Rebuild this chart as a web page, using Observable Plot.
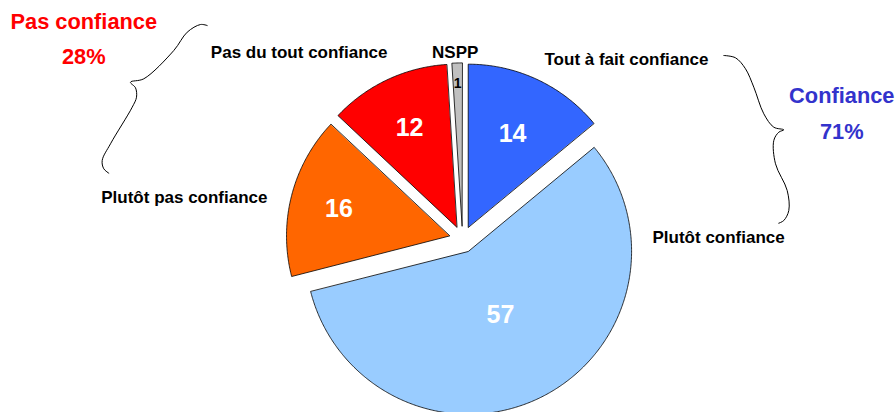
<!DOCTYPE html>
<html>
<head>
<meta charset="utf-8">
<script src="https://cdn.jsdelivr.net/npm/d3@7"></script>
<script src="https://cdn.jsdelivr.net/npm/@observablehq/plot@0.6"></script>
<style>
  html, body { margin: 0; padding: 0; background: #fff; }
  #chart { width: 896px; height: 412px; }
</style>
</head>
<body>
<div id="chart"></div>
<script>
// ---- Data ----
const categories = ["Tout à fait confiance", "Plutôt confiance", "Plutôt pas confiance", "Pas du tout confiance", "NSPP"];
const values = [14, 57, 16, 12, 1];
const sliceColors = ["#3366FF", "#99CCFF", "#FF6600", "#FF0000", "#C0C0C0"];
const valueLabelColors = ["#FFFFFF", "#FFFFFF", "#FFFFFF", "#FFFFFF", "#000000"];
const groupNames = ["Pas confiance", "Confiance"];
const groupShares = ["28%", "71%"];
const groupColors = ["#FF0000", "#3333CC"];

// ---- Layout (pie-centred units, y down) ----
const W = 896, H = 412;
const CX = 462, CY = 238.8;        // pie centre in the frame
const R = 163;                      // radius
const EXPLODE = 13.4;               // explosion offset
const labelRadius = [0.64, 0.43, 0.70, 0.68, 0.88];
const valueFont = [25, 25, 25, 25, 14];

// category label placement (annotation layout)
const catLabelPos = [
  {x: 544 - CX, y: 59.5 - CY, anchor: "start"},
  {x: 652 - CX, y: 237.5 - CY, anchor: "start"},
  {x: 267 - CX, y: 197.5 - CY, anchor: "end"},
  {x: 387 - CX, y: 52.5 - CY, anchor: "end"},
  {x: 454.7 - CX, y: 52.5 - CY, anchor: "middle"}
];
const groupLabelPos = [
  {x: 83.3 - CX, y1: 21.1 - CY, y2: 56.4 - CY},
  {x: 841.3 - CX, y1: 95.8 - CY, y2: 131.4 - CY}
];
const braceLeft = [[206.7,25],[200,24],[186.7,31.7],[173.3,50],[143.3,78.3],[130,81.7],[135,87.3],[136,96.7],[131.7,106.7],[110,143.3],[101.7,160],[103.3,168.3],[108.3,172.7]];
const braceRight = [[723.3,55],[735,57.3],[745,68.3],[753.3,86.7],[763.3,113.3],[773.3,126.7],[783.3,129.3],[778.3,131.7],[773.3,140],[775,163.3],[786.7,190],[788.3,210],[783.3,220],[778.3,222.7]];

// ---- Geometry from the values ----
const arcs = d3.pie().sort(null).value(d => d)(values);
const slices = arcs.map((a, i) => {
  const mid = (a.startAngle + a.endAngle) / 2;
  const ox = EXPLODE * Math.sin(mid), oy = -EXPLODE * Math.cos(mid);
  const pts = [{x: ox, y: oy}];
  const n = Math.max(4, Math.ceil((a.endAngle - a.startAngle) / (Math.PI / 360)));
  for (let k = 0; k <= n; k++) {
    const t = a.startAngle + (a.endAngle - a.startAngle) * k / n;
    pts.push({x: ox + R * Math.sin(t), y: oy - R * Math.cos(t)});
  }
  const lr = labelRadius[i] * R;
  return {
    cat: categories[i], value: values[i], color: sliceColors[i], pts,
    lx: ox + lr * Math.sin(mid), ly: oy - lr * Math.cos(mid) + 1,
    labelColor: valueLabelColors[i], fs: valueFont[i]
  };
});

const font = "'Liberation Sans', Arial, Helvetica, sans-serif";
const toXY = arr => arr.map(([x, y]) => ({x: x - CX, y: y - CY}));

const marks = [];
slices.forEach(s => {
  marks.push(Plot.line(s.pts, {x: "x", y: "y", curve: "linear-closed", fill: s.color, stroke: "#000", strokeWidth: 0.8}));
});
slices.forEach(s => {
  marks.push(Plot.text([s], {x: "lx", y: "ly", text: d => String(d.value), fill: s.labelColor, fontSize: s.fs, fontWeight: "bold", fontFamily: font}));
});
categories.forEach((c, i) => {
  const p = catLabelPos[i];
  marks.push(Plot.text([c], {x: () => p.x, y: () => p.y, text: d => d, textAnchor: p.anchor, fill: "#000", fontSize: 17, fontWeight: "bold", fontFamily: font}));
});
groupNames.forEach((g, i) => {
  const p = groupLabelPos[i];
  marks.push(Plot.text([g], {x: () => p.x, y: () => p.y1, text: d => d, fill: groupColors[i], fontSize: 21.8, fontWeight: "bold", fontFamily: font}));
  marks.push(Plot.text([groupShares[i]], {x: () => p.x, y: () => p.y2, text: d => d, fill: groupColors[i], fontSize: 21.8, fontWeight: "bold", fontFamily: font}));
});
marks.push(Plot.line(toXY(braceLeft), {x: "x", y: "y", curve: "catmull-rom", stroke: "#000", strokeWidth: 1}));
marks.push(Plot.line(toXY(braceRight), {x: "x", y: "y", curve: "catmull-rom", stroke: "#000", strokeWidth: 1}));

const chart = Plot.plot({
  width: W, height: H,
  margin: 0,
  x: {domain: [-CX, W - CX], range: [0, W], axis: null},
  y: {domain: [-CY, H - CY], range: [0, H], axis: null},
  style: {background: "#fff", overflow: "hidden"},
  marks
});
document.getElementById("chart").appendChild(chart);
</script>
</body>
</html>
